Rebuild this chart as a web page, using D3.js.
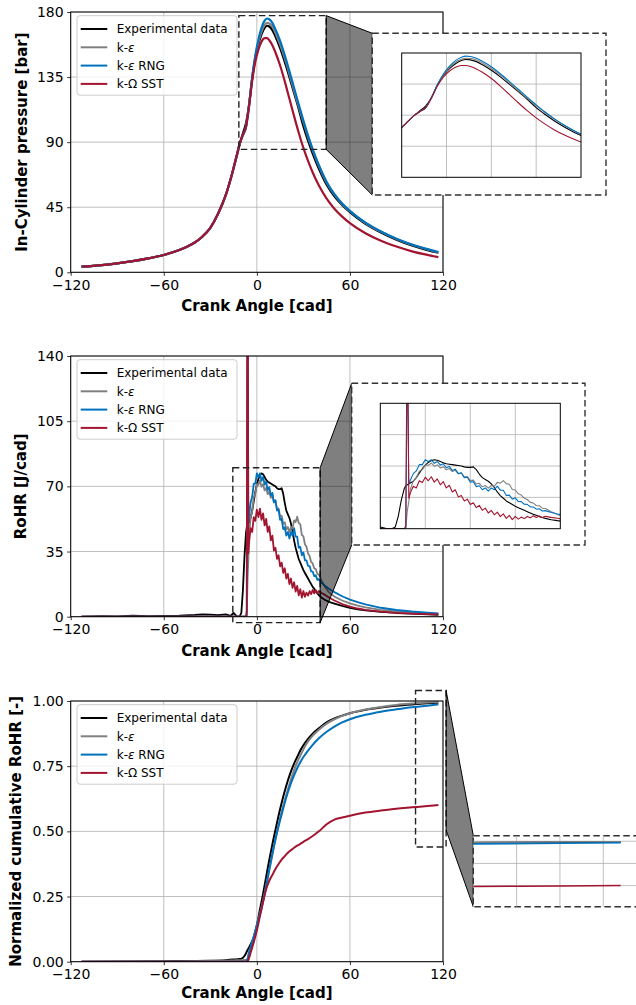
<!DOCTYPE html>
<html lang="en">
<head>
<meta charset="UTF-8">
<title>In-cylinder pressure and RoHR</title>
<style>
  body { margin: 0; background: #fff; }
  svg { display: block; font-family: "DejaVu Sans", sans-serif; }
  .axis-label { font-size: 15px; font-weight: bold; fill: #000; }
  .legend-text { font-size: 12px; fill: #000; }
</style>
</head>
<body>
<svg id="chart" width="636" height="1005"></svg>
<script src="https://d3js.org/d3.v7.min.js"></script>
<script>
// ---- shared axis data ----
var xTicks = [-120, -60, 0, 60, 120];
var xTickLabels = ["\u2212120", "\u221260", "0", "60", "120"];
var seriesNames = ["Experimental data", "k-\u03b5", "k-\u03b5 RNG", "k-\u03a9 SST"];
var seriesColors = ["#000000", "#808080", "#0072bd", "#a2142f"];

// ---- panel 1: in-cylinder pressure [bar] ----
var pAngle = [-113,-100,-90,-80,-70,-60,-50,-45,-40,-35,-30,-25,-20,-16,-13,-11,-9,-7,-5,-3,-1,1,3,5,6.5,8,10,12,15,18,21,24,27,30,33,36,40,45,50,55,60,70,80,90,100,110,117];
var pExp = [3.9,5.0,6.2,7.7,9.6,12.0,15.4,17.7,20.6,24.8,30.8,40.5,53.5,68,80.5,89,96,103,116,134,148,157.5,164.5,169,170.5,170,167.5,163,155,145.5,135,124,113,101,91,82,71.5,60.5,52.5,46.5,41.5,33.5,27.5,22.5,18.5,15.3,13.5];
var pKe  = [3.9,5.0,6.2,7.7,9.6,12.0,15.4,17.7,20.6,24.8,30.8,40.5,53.5,68,80.5,89,95,100.5,115.5,134,148.5,159,166.5,171,172.5,172,170,165.5,157.5,148,137,125.5,114.5,104,93.5,84.5,73.5,62,53.7,47.2,42.2,34.1,28,23,19,15.8,13.8];
var pRng = [3.9,5.0,6.2,7.7,9.6,12.0,15.4,17.7,20.6,24.8,30.8,40.5,53.5,68,80.5,89,95,100.5,116,135,150,161,169,174,175.5,175,172.5,168,160,150,139,127.5,116,105,94.5,85,74,62.5,54,47.5,42.5,34.3,28.2,23.2,19.2,16,14];
var pSst = [3.9,5.0,6.2,7.7,9.6,12.0,15.4,17.7,20.6,24.8,30.8,40.5,53.5,68,80.5,89,95,100.5,115,132.5,145.5,154,159.5,162,162,160.5,157,152,143,132,120,108,96.5,86,77,69,60,51,44,38.5,34,27,21.8,17.8,14.5,12,10.5];
var pTicks = [0, 45, 90, 135, 180];
var pTickLabels = ["0", "45", "90", "135", "180"];

// ---- panel 2: rate of heat release [J/cad] ----
var hAngle = [-113,-100,-90,-80,-70,-60,-50,-40,-35,-30,-25,-20,-17,-15,-13,-11,-10,-9,-8,-7,-6.5,-6,-5.5,-5,
  -4,-3,-2,-1,0,1,2,3,4,5,6,7,8,9,10,11,12,13,14,15,16,17,18,19,20,21,22,23,24,25,26,27,28,29,30,31,32,33,34,35,36,37,38,39,40,
  42,44,46,48,50,55,60,65,70,80,90,100,110,117];
var hExp = [0,0.3,0.2,0.5,0.3,0.4,0.6,1.0,1.3,1.1,0.9,1.3,0.4,2.0,0.2,0.3,2,14,32,45,48,49,50,51,
  53,57,62,67,71,74,76,77,76.5,75,73.5,72.5,72,71.5,71,70.5,70,69,68.5,68.5,69,66,61,57,55,53,50,46,41,37,34,31,29,27,25,23.5,22,20.5,19,17.5,16,15,13.5,12.5,11.5,
  10,9,8.2,7.5,7,5.8,4.8,4,3.4,2.6,2,1.6,1.2,1.0];
var hKe = [0,0,0,0,0,0,0,0,0,0,0,0,0,0,0,0,0,0,0,0,0.5,20,30,44,
  53.2,56.8,64.2,65.8,71.2,70.8,73.2,69.8,71.2,67.8,69.2,65.8,67.2,63.8,65.2,61.3,62.2,57.8,58.2,53.8,54.2,49.8,50.7,46.8,48.2,45.3,48.2,47.3,51.7,50.8,53.7,50.3,49.7,43.8,43.2,38.9,37.6,33.9,32.6,29.4,28.6,25.9,25.6,22.9,22.6,
  19,16,13.6,12,10.8,8.7,7.2,6.0,5.0,3.7,2.8,2.2,1.8,1.5];
var hRng = [0,0,0,0,0,0,0,0,0,0,0,0,0,0,0,0,0,0,0,0,1,200,50,54,
  61.5,64.5,71.5,71.5,77,75,77,73,75,71,72.5,68,69.5,65,66.5,61.5,62.5,57,57.5,52,52.5,47,48,43.5,45.5,42,45.5,43.5,47.5,43,43,37,37.5,33,34.5,30.3,30.2,27.3,27.2,24.3,24.2,21.8,22.2,19.8,20.2,
  18,16.5,15.3,14.2,13.2,11,9.2,7.8,6.6,4.8,3.6,2.8,2.2,1.8];
var hSst = [0,0,0,0,0,0,0,0,0,0,0,0,0,0,0,0,0,0,0,0,3,260,34,40,
  47.5,45.5,53.5,51.5,57.5,53.5,58,52,55.5,49,52.5,45.5,48.5,41,43.5,35.5,37,31,33,27,29,23.5,26,20.5,23,17.5,20.5,15.5,18.5,13.5,16.5,11.5,14.8,10.2,13.8,10.7,12.9,11.3,13.7,12.1,14.4,12.5,14.3,12.6,13.8,
  12.6,11.7,10.6,9.6,8.7,6.8,5.4,4.4,3.7,2.7,2.1,1.7,1.4,1.2];
var hTicks = [0, 35, 70, 105, 140];
var hTickLabels = ["0", "35", "70", "105", "140"];

// ---- panel 3: normalized cumulative RoHR [-] ----
var cAngle = [-113,-60,-30,-20,-15,-11,-10,-9,-8,-7,-6,-5,-4,-2,0,2,4,6,8,10,12,14,16,18,20,22,24,26,28,30,33,36,40,45,50,55,60,70,80,90,100,110,117];
var cExp = [0,0.002,0.004,0.006,0.008,0.01,0.011,0.015,0.022,0.032,0.045,0.055,0.066,0.095,0.14,0.2,0.26,0.325,0.39,0.45,0.505,0.56,0.61,0.655,0.695,0.73,0.76,0.785,0.81,0.83,0.855,0.875,0.895,0.918,0.933,0.944,0.953,0.966,0.975,0.982,0.987,0.991,0.993];
var cKe  = [0,0.001,0.003,0.004,0.005,0.006,0.006,0.006,0.007,0.007,0.01,0.035,0.055,0.095,0.14,0.185,0.235,0.29,0.35,0.41,0.47,0.525,0.575,0.62,0.66,0.7,0.735,0.765,0.79,0.815,0.845,0.867,0.89,0.913,0.93,0.943,0.953,0.967,0.977,0.985,0.99,0.994,0.996];
var cRng = [0,0,0,0,0,0,0,0,0,0,0.01,0.035,0.055,0.095,0.14,0.18,0.23,0.29,0.355,0.415,0.47,0.52,0.565,0.61,0.65,0.685,0.715,0.742,0.765,0.785,0.81,0.832,0.857,0.882,0.902,0.918,0.93,0.947,0.959,0.968,0.976,0.982,0.987];
var cSst = [0,0,0,0,0,0,0,0,0,0,0,0.015,0.035,0.075,0.12,0.175,0.23,0.278,0.31,0.333,0.356,0.375,0.392,0.405,0.418,0.428,0.437,0.445,0.452,0.46,0.47,0.482,0.5,0.527,0.545,0.553,0.56,0.572,0.58,0.587,0.592,0.597,0.601];
var cTicks = [0, 0.25, 0.5, 0.75, 1.0];
var cTickLabels = ["0.00", "0.25", "0.50", "0.75", "1.00"];

// ---- layout ----
var L = 70.7, R = 443;
var svg = d3.select("#chart");
var defs = svg.append("defs");

var panels = [
  { id: "p", top: 12, bottom: 272.3, yDomain: [0, 180], yTicks: pTicks, yTickLabels: pTickLabels,
    angle: pAngle, series: [pExp, pKe, pRng, pSst], lw: 2.2, curve: d3.curveMonotoneX,
    yLabel: "In-Cylinder pressure [bar]", yLabelX: 26.5, xLabelY: 311,
    zoomX: [-11.6, 44.7], zoomY: [85, 177.5], polyLow: 85,
    inset: { outer: [372.3, 33.3, 233.7, 161.7], inner: [401.7, 53, 179.3, 124.3],
             xDomain: [-15, 45], yDomain: [0, 180], xGrid: [0, 15, 30], yGrid: [45, 90, 135], lw: 1.1, frame: true } },
  { id: "h", top: 356, bottom: 616.7, yDomain: [0, 140], yTicks: hTicks, yTickLabels: hTickLabels,
    angle: hAngle, series: [hExp, hKe, hRng, hSst], lw: 1.8, curve: d3.curveLinear,
    yLabel: "RoHR [J/cad]", yLabelX: 26, xLabelY: 656,
    zoomX: [-15.5, 40.8], zoomY: [-3.2, 80], polyLow: -3.2,
    inset: { outer: [351.7, 383.3, 233.3, 161.7], inner: [380.3, 403.3, 180, 125.4],
             xDomain: [-15, 45], yDomain: [0, 140], xGrid: [0, 15, 30], yGrid: [35, 70, 105], lw: 1.1, frame: true } },
  { id: "c", top: 701, bottom: 961.7, yDomain: [0, 1], yTicks: cTicks, yTickLabels: cTickLabels,
    angle: cAngle, series: [cExp, cKe, cRng, cSst], lw: 2.0, curve: d3.curveMonotoneX,
    yLabel: "Normalized cumulative RoHR [-]", yLabelX: 20.5, xLabelY: 998,
    zoomX: [102.3, 122], zoomY: [0.44, 1.04], polyLow: 0.505,
    inset: { outer: [473.3, 835.7, 173.3, 71], inner: [473.3, 835.7, 173.3, 71],
             xDomain: [100, 120], yDomain: [0.41, 1.05], xGrid: [105, 110, 115], yGrid: [0.6, 0.8, 1.0], lw: 1.6, frame: false } }
];

function drawPanel(p) {
  var x = d3.scaleLinear().domain([-120, 120]).range([L, R]);
  var y = d3.scaleLinear().domain(p.yDomain).range([p.bottom, p.top]);
  var g = svg.append("g");

  defs.append("clipPath").attr("id", "clip-" + p.id).append("rect")
    .attr("x", L).attr("y", p.top).attr("width", R - L).attr("height", p.bottom - p.top);

  // grid
  g.append("g").selectAll("line").data(xTicks).join("line")
    .attr("x1", d => x(d)).attr("x2", d => x(d)).attr("y1", p.top).attr("y2", p.bottom)
    .attr("stroke", "#b0b0b0").attr("stroke-width", 0.8);
  g.append("g").selectAll("line").data(p.yTicks).join("line")
    .attr("x1", L).attr("x2", R).attr("y1", d => y(d)).attr("y2", d => y(d))
    .attr("stroke", "#b0b0b0").attr("stroke-width", 0.8);

  // curves
  var line = d3.line().curve(p.curve).x(d => x(d[0])).y(d => y(d[1]));
  g.append("g").attr("clip-path", "url(#clip-" + p.id + ")")
    .selectAll("path").data(p.series).join("path")
    .attr("d", s => line(d3.zip(p.angle, s)))
    .attr("fill", "none")
    .attr("stroke", (s, i) => seriesColors[i])
    .attr("stroke-width", p.lw)
    .attr("stroke-linejoin", "round");

  // spines
  g.append("rect").attr("x", L).attr("y", p.top).attr("width", R - L).attr("height", p.bottom - p.top)
    .attr("fill", "none").attr("stroke", "#000").attr("stroke-width", 1);

  // axes
  var xa = g.append("g").attr("transform", "translate(0," + p.bottom + ")")
    .call(d3.axisBottom(x).tickValues(xTicks).tickFormat((d, i) => xTickLabels[i]).tickSize(3.5).tickPadding(4));
  xa.select(".domain").remove();
  xa.attr("font-size", 14).attr("font-family", "DejaVu Sans");
  xa.selectAll("line").attr("stroke-width", 0.8);

  var ya = g.append("g").attr("transform", "translate(" + L + ",0)")
    .call(d3.axisLeft(y).tickValues(p.yTicks).tickFormat((d, i) => p.yTickLabels[i]).tickSize(3.5).tickPadding(3.5));
  ya.select(".domain").remove();
  ya.attr("font-size", 14).attr("font-family", "DejaVu Sans");
  ya.selectAll("line").attr("stroke-width", 0.8);

  // axis labels
  g.append("text").attr("class", "axis-label")
    .attr("x", (L + R) / 2).attr("y", p.xLabelY).attr("text-anchor", "middle")
    .text("Crank Angle [cad]");
  g.append("text").attr("class", "axis-label")
    .attr("transform", "translate(" + p.yLabelX + "," + ((p.top + p.bottom) / 2) + ") rotate(-90)")
    .attr("text-anchor", "middle")
    .text(p.yLabel);

  // legend
  var lg = g.append("g").attr("transform", "translate(77," + (p.top + 3.7) + ")");
  lg.append("rect").attr("width", 160).attr("height", 79.5).attr("rx", 3)
    .attr("fill", "#fff").attr("fill-opacity", 0.8).attr("stroke", "#cccccc").attr("stroke-width", 1);
  seriesNames.forEach(function(name, i) {
    var yy = 13.3 + i * 18.3;
    lg.append("line").attr("x1", 3.7).attr("x2", 30.3).attr("y1", yy).attr("y2", yy)
      .attr("stroke", seriesColors[i]).attr("stroke-width", 2);
    var t = lg.append("text").attr("class", "legend-text").attr("x", 39.7).attr("y", yy).attr("dy", "0.36em");
    var parts = name.split("\u03b5");
    t.append("tspan").text(parts[0]);
    if (parts.length > 1) {
      t.append("tspan").attr("font-style", "italic").text("\u03b5");
      t.append("tspan").text(parts[1]);
    }
  });

  // zoom rectangle on the main axes
  var zx0 = x(p.zoomX[0]), zx1 = x(p.zoomX[1]);
  var zy0 = y(p.zoomY[1]), zy1 = y(p.zoomY[0]);
  g.append("rect").attr("x", zx0).attr("y", zy0).attr("width", zx1 - zx0).attr("height", zy1 - zy0)
    .attr("fill", "none").attr("stroke", "#222").attr("stroke-width", 1.4).attr("stroke-dasharray", "6.5,3.5");

  // connector
  var o = p.inset.outer;
  var poly = [[zx1, zy0], [o[0], o[1]], [o[0], o[1] + o[3]], [zx1, y(p.polyLow)]];
  g.append("path").attr("d", "M" + poly.map(d => d.join(",")).join("L") + "Z")
    .attr("fill", "#000").attr("fill-opacity", 0.5).attr("stroke", "#000").attr("stroke-width", 1);

  drawInset(g, p);
}

function drawInset(g, p) {
  var ins = p.inset, o = ins.outer, n = ins.inner;
  g.append("rect").attr("x", o[0]).attr("y", o[1]).attr("width", o[2]).attr("height", o[3])
    .attr("fill", "#fff").attr("stroke", "#333").attr("stroke-width", 1.4).attr("stroke-dasharray", "6.5,3.5");

  var ix = d3.scaleLinear().domain(ins.xDomain).range([n[0], n[0] + n[2]]);
  var iy = d3.scaleLinear().domain(ins.yDomain).range([n[1] + n[3], n[1]]);
  var cid = "clip-inset-" + p.id;
  defs.append("clipPath").attr("id", cid).append("rect")
    .attr("x", n[0]).attr("y", n[1]).attr("width", n[2]).attr("height", n[3]);

  var ig = g.append("g");
  ig.append("g").selectAll("line").data(ins.xGrid).join("line")
    .attr("x1", d => ix(d)).attr("x2", d => ix(d)).attr("y1", n[1]).attr("y2", n[1] + n[3])
    .attr("stroke", "#b0b0b0").attr("stroke-width", 0.8);
  ig.append("g").selectAll("line").data(ins.yGrid).join("line")
    .attr("x1", n[0]).attr("x2", n[0] + n[2]).attr("y1", d => iy(d)).attr("y2", d => iy(d))
    .attr("stroke", "#b0b0b0").attr("stroke-width", 0.8);

  var line = d3.line().curve(p.curve).x(d => ix(d[0])).y(d => iy(d[1]));
  ig.append("g").attr("clip-path", "url(#" + cid + ")")
    .selectAll("path").data(p.series).join("path")
    .attr("d", s => line(d3.zip(p.angle, s)))
    .attr("fill", "none")
    .attr("stroke", (s, i) => seriesColors[i])
    .attr("stroke-width", ins.lw)
    .attr("stroke-linejoin", "round");

  if (ins.frame) {
    ig.append("rect").attr("x", n[0]).attr("y", n[1]).attr("width", n[2]).attr("height", n[3])
      .attr("fill", "none").attr("stroke", "#000").attr("stroke-width", 1);
  }
}

panels.forEach(drawPanel);
</script>
</body>
</html>
